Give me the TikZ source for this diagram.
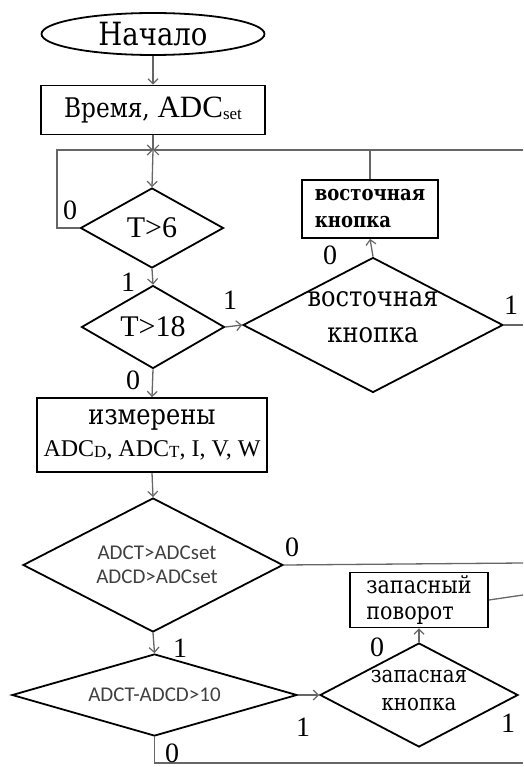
\documentclass[tikz,border=0pt]{standalone}
\usepackage{fontspec}
\setmainfont{Liberation Serif}
\newfontfamily\cyrf{DejaVu Serif}[FakeStretch=0.86]
\newfontfamily\sansf{Carlito}
\usetikzlibrary{shapes.geometric,arrows.meta}
\begin{document}
\begin{tikzpicture}[x=1pt,y=-1pt,
  shp/.style={draw=black, line width=1.8pt},
  box/.style={shp, rectangle, inner sep=0pt},
  dia/.style={shp, diamond, inner sep=0pt},
  conn/.style={draw=black!60, line width=1.3pt},
  arr/.style={conn, -{Straight Barb[length=5pt,width=10pt,line width=1.2pt]}},
  lab/.style={font=\fontsize{28}{28}\selectfont, inner sep=0pt, text=black},
  big/.style={font=\fontsize{30}{36}\selectfont},
  sanst/.style={font=\sansf\fontsize{21}{24}\selectfont, text=black!75}]
\useasboundingbox (0,0) rectangle (523,767);

% start and boxes
\node[shp, ellipse, minimum width=223pt, minimum height=42pt, inner sep=0pt,
      label={[font=\cyrf\fontsize{32}{32}\selectfont]center:Начало}] (start) at (153,34) {};
\node[box, minimum width=224pt, minimum height=49pt, font=\fontsize{31}{31}\selectfont] (b1) at (153,110)
  {{\cyrf\fontsize{27}{27}\selectfont Время,} ADC\raisebox{-2pt}{\fontsize{17}{17}\selectfont set}};
\node[box, minimum width=230pt, minimum height=74pt, align=center, font=\fontsize{30}{32}\selectfont] (b2) at (152,435)
  {{\cyrf\fontsize{28}{28}\selectfont измерены}\\
   {\fontsize{24}{26}\selectfont ADC\raisebox{-1pt}{\fontsize{17}{17}\selectfont D}, ADC\raisebox{-1pt}{\fontsize{17}{17}\selectfont T}, I, V, W}};
\node[box, minimum width=136pt, minimum height=58pt, align=left, font=\cyrf\bfseries\fontsize{21}{27}\selectfont] (vb) at (370,209)
  {восточная\\кнопка};
\node[box, minimum width=138pt, minimum height=55pt, align=left, font=\cyrf\fontsize{24}{26}\selectfont] (zb) at (419,600)
  {запасный\\поворот};

% decisions
\node[dia, minimum width=143pt, minimum height=80pt,
      label={[big]center:T>6}] (d1) at (152,228) {};
\node[dia, minimum width=143pt, minimum height=83pt,
      label={[big]center:T>18}] (d2) at (153,327) {};
\node[dia, minimum width=260pt, minimum height=135pt,
      label={[font=\cyrf\fontsize{28}{36}\selectfont, align=center, yshift=8pt]center:восточная\\кнопка}] (d3) at (373,325) {};
\node[dia, minimum width=260pt, minimum height=134pt,
      label={[sanst, align=center, xshift=4pt]center:ADCT>ADCset\\ADCD>ADCset}] (d4) at (153,565) {};
\node[dia, minimum width=285pt, minimum height=82pt,
      label={[sanst]center:ADCT-ADCD>10}] (d5) at (154.5,695) {};
\node[dia, minimum width=198pt, minimum height=104pt,
      label={[font=\cyrf\fontsize{23}{28}\selectfont, align=center, yshift=4pt]center:запасная\\кнопка}] (d6) at (419,695) {};

% helper coordinates
\coordinate (j) at (153,150);
\coordinate (lft) at (57,150);
\coordinate (r1) at (523,150);
\coordinate (r2) at (523,325);
\coordinate (r3) at (523,563);
\coordinate (r4) at (523,595);
\coordinate (r5) at (523,763);

% connectors
\draw[arr] (start) -- (b1);
\draw[conn] (b1) -- (j);
\draw[arr] (j) -- (d1.north);
\draw[arr] (d1.west) -| (lft) -- (j);
\draw[arr] (r1) -- (j);
\draw[conn] (vb.north) -- (vb.north |- j);
\draw[arr] (d1.south) -- (d2.north);
\draw[arr] (d2.east) -- (d3.west);
\draw[arr] (d3.north) -- (vb.south);
\draw[conn] (d3.east) -- (r2);
\draw[arr] (d2.south) -- (b2.north);
\draw[arr] (b2.south) -- (d4.north);
\draw[conn] (d4.east) -- (r3);
\draw[arr] (d4.south) -- (d5.north);
\draw[arr] (d5.east) -- (d6.west);
\draw[arr] (d6.north) -- (zb.south);
\draw[conn] (zb.east) -- (r4);
\draw[conn] (d5.south) |- (r5);

% branch labels
\node[lab] (l1) at (70,210) {0};
\node[lab] (l2) at (128,282) {1};
\node[lab] (l3) at (230,300) {1};
\node[lab] (l4) at (330,255) {0};
\node[lab] (l5) at (511,305) {1};
\node[lab] (l6) at (133,380) {0};
\node[lab] (l7) at (292,547) {0};
\node[lab] (l8) at (180,648) {1};
\node[lab] (l9) at (303,727) {1};
\node[lab] (l10) at (377,647) {0};
\node[lab] (l11) at (508,723) {1};
\node[lab] (l12) at (172,753) {0};
\end{tikzpicture}
\end{document}
